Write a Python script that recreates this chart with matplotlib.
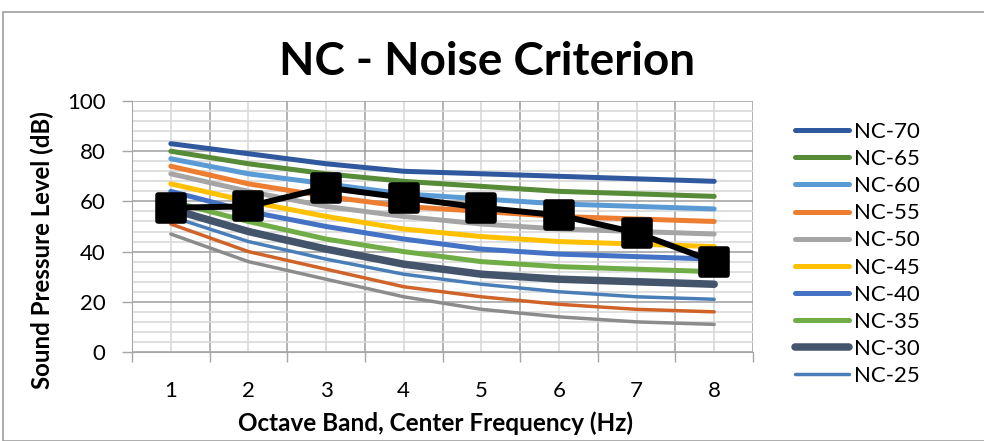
import numpy as np
import matplotlib
matplotlib.use("Agg")
import matplotlib.pyplot as plt
from matplotlib.markers import MarkerStyle
from matplotlib.patches import Rectangle

plt.rcParams['font.family'] = ['Lato', 'DejaVu Sans']

# octave bands (category labels)
bands = ['1', '2', '3', '4', '5', '6', '7', '8']

# NC curves
nc_names = ['NC-70', 'NC-65', 'NC-60', 'NC-55', 'NC-50', 'NC-45',
            'NC-40', 'NC-35', 'NC-30', 'NC-25', 'NC-20', 'NC-15']
nc70 = [83, 79, 75, 72, 71, 70, 69, 68]
nc65 = [80, 75, 71, 68, 66, 64, 63, 62]
nc60 = [77, 71, 67, 63, 61, 59, 58, 57]
nc55 = [74, 67, 62, 58, 56, 54, 53, 52]
nc50 = [71, 64, 58, 54, 51, 49, 48, 47]
nc45 = [67, 60, 54, 49, 46, 44, 43, 42]
nc40 = [64, 56, 50, 45, 41, 39, 38, 37]
nc35 = [60, 52, 45, 40, 36, 34, 33, 32]
nc30 = [57, 48, 41, 35, 31, 29, 28, 27]
nc25 = [54, 44, 37, 31, 27, 24, 22, 21]
nc20 = [51, 40, 33, 26, 22, 19, 17, 16]
nc15 = [47, 36, 29, 22, 17, 14, 12, 11]
nc_values = [nc70, nc65, nc60, nc55, nc50, nc45, nc40, nc35, nc30, nc25, nc20, nc15]

# measured spectrum
measured = [57.5, 58, 65.5, 61.5, 57.5, 54.5, 47.5, 36]

nc_colors = ['#30589F', '#568B37', '#5B9BD5', '#ED7D31', '#A5A5A5', '#FFC000',
             '#4472C4', '#70AD47', '#44546A', '#4A7EB8', '#CF6328', '#8C8C8C']
nc_widths = [3.6, 3.6, 3.6, 3.6, 3.6, 3.6, 3.6, 3.6, 5.4, 2.5, 2.5, 2.5]

fig = plt.figure(figsize=(9.84, 4.41), dpi=100)
ax = fig.add_axes([132/984, 1 - 352/441, (753 - 132)/984, (352 - 101)/441])

x = np.arange(len(bands))
lines = []
for name, vals, c, lw in zip(nc_names, nc_values, nc_colors, nc_widths):
    ln, = ax.plot(x, vals, color=c, lw=lw, solid_capstyle='round',
                  solid_joinstyle='round', label=name, zorder=3)
    lines.append(ln)

ax.plot(x, measured, color='black', lw=4.3, zorder=5,
        marker=MarkerStyle('s', joinstyle='round'), markersize=19,
        markeredgewidth=4, markerfacecolor='black', markeredgecolor='black')

ax.set_xlim(-0.5, len(bands) - 0.5)
ax.set_ylim(0, 100)

# x axis: labels at centres, ticks/major grid at boundaries
ax.set_xticks(x)
ax.set_xticklabels(bands)
ax.set_xticks(np.arange(-0.5, len(bands)), minor=True)
ax.tick_params(axis='x', which='major', length=0, pad=21, labelsize=16)
ax.tick_params(axis='x', which='minor', length=7, color='#A6A6A6', width=1)
ax.set_yticks(np.arange(0, 101, 20))
ax.set_yticks(np.arange(0, 101, 4), minor=True)
ax.tick_params(axis='y', which='major', length=7, color='#A6A6A6', width=1,
               pad=12, labelsize=16)
ax.tick_params(axis='y', which='minor', length=0)

for xv in np.arange(-0.5, len(bands)):
    ax.axvline(xv, color='#A6A6A6', lw=1.2, zorder=1)
for xv in x:
    ax.axvline(xv, color='#D9D9D9', lw=1.2, zorder=1)
for yv in np.arange(0, 101, 4):
    major = yv % 20 == 0
    ax.axhline(yv, color='#A6A6A6' if major else '#D9D9D9', lw=1.2, zorder=1)

for s in ['top', 'right']:
    ax.spines[s].set_visible(False)
ax.spines['left'].set_color('#A6A6A6')
ax.spines['bottom'].set_color('#A6A6A6')

ax.set_xlabel('Octave Band, Center Frequency (Hz)', fontsize=17.5, fontweight='bold')
ax.xaxis.set_label_coords((435 - 132)/(753 - 132), -(423 - 352)/(352 - 101))
ax.xaxis.label.set_va('center')
ax.set_ylabel('Sound Pressure Level (dB)', fontsize=17.3, fontweight='bold')
ax.yaxis.set_label_coords(-(132 - 42)/(753 - 132), (352 - 250)/(352 - 101))
ax.yaxis.label.set_va('center')

fig.text(487/984, 1 - 62/441, 'NC - Noise Criterion', fontsize=33, fontweight='bold',
         ha='center', va='center')

leg = fig.legend(handles=lines[:10], loc='upper left',
                 bbox_to_anchor=(795/984, 1 - 122/441), frameon=False,
                 fontsize=16, handlelength=2.45, handletextpad=0.2,
                 labelspacing=0.32, borderaxespad=0, borderpad=0)

fig.add_artist(Rectangle((3/984, 0), 1, 1 - 12/441, transform=fig.transFigure,
                         fill=False, edgecolor='#A0A0A0', lw=1.2))

fig.savefig('out.png', dpi=100)
